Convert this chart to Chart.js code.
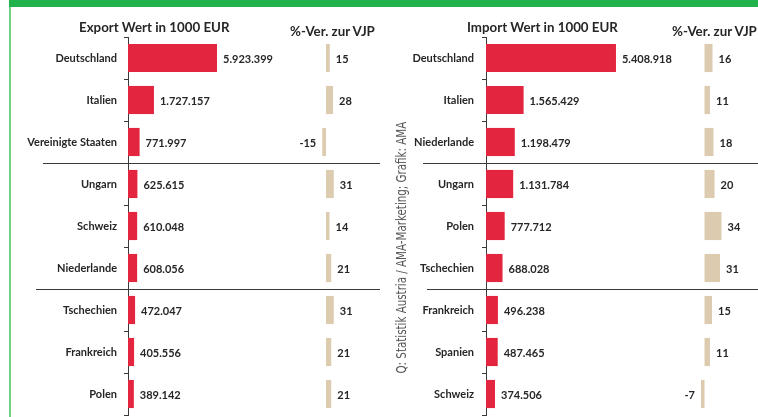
<!DOCTYPE html>
<html>
<head>
<meta charset="utf-8">
<script src="https://cdn.jsdelivr.net/npm/chart.js@4/dist/chart.umd.min.js"></script>
<style>
  html, body { margin: 0; padding: 0; background: #fff; }
  #wrap { position: relative; width: 758px; height: 417px; overflow: hidden; font-family: Lato, "Open Sans", sans-serif; color: #262626; }
  canvas { position: absolute; top: 0; }
  #exportChart { left: 0; }
  #importChart { left: 380px; }
  .banner { position: absolute; left: 9px; top: 0; width: 749px; height: 7px; background: #22b24c; }
  .sideline { position: absolute; left: 9px; top: 7px; width: 2px; height: 410px; background: #74cf84; }
  .title { position: absolute; font-weight: bold; font-size: 13.3px; line-height: 16px; white-space: nowrap; }
  #source { position: absolute; left: 275px; top: 272px; width: 252px; height: 18px; line-height: 18px;
    text-align: center; white-space: nowrap; font-size: 14.5px; color: #555;
    font-family: "Liberation Sans Narrow", "DejaVu Sans Condensed", Roboto, sans-serif; transform: rotate(-90deg); }
  #source span { display: inline-block; transform-origin: center; }
</style>
</head>
<body>
<div id="wrap">
  <canvas id="exportChart" width="380" height="417"></canvas>
  <canvas id="importChart" width="378" height="417"></canvas>
  <div class="banner"></div>
  <div class="sideline"></div>
  <div class="title" style="left:79px; top:19px;">Export Wert in 1000 EUR</div>
  <div class="title" style="left:290px; top:23px;">%-Ver. zur VJP</div>
  <div class="title" style="left:467px; top:19px;">Import Wert in 1000 EUR</div>
  <div class="title" style="left:672px; top:23px;">%-Ver. zur VJP</div>
  <div id="source"><span>Q: Statistik Austria / AMA-Marketing; Grafik: AMA</span></div>
</div>
<script>
// Export data
const exportCountries = ['Deutschland', 'Italien', 'Vereinigte Staaten', 'Ungarn', 'Schweiz', 'Niederlande', 'Tschechien', 'Frankreich', 'Polen'];
const exportValues = [5923399, 1727157, 771997, 625615, 610048, 608056, 472047, 405556, 389142];
const exportChange = [15, 28, -15, 31, 14, 21, 31, 21, 21];

// Import data
const importCountries = ['Deutschland', 'Italien', 'Niederlande', 'Ungarn', 'Polen', 'Tschechien', 'Frankreich', 'Spanien', 'Schweiz'];
const importValues = [5408918, 1565429, 1198479, 1131784, 777712, 688028, 496238, 487465, 374506];
const importChange = [16, 11, 18, 20, 34, 31, 15, 11, -7];

const RED = '#e3253f';
const TAN = '#dccbae';
const TEXT = '#262626';
const LINE = '#3a3a3a';

// German thousands separator
function fmtDe(n) {
    return String(n).replace(/\B(?=(\d{3})+(?!\d))/g, '.');
}

// Draws the value labels next to each bar
const barLabels = {
    id: 'barLabels',
    afterDatasetsDraw(chart) {
        const ctx = chart.ctx;
        ctx.save();
        ctx.font = 'bold 11px Lato, "Open Sans", sans-serif';
        ctx.fillStyle = TEXT;
        ctx.textBaseline = 'middle';
        chart.data.datasets.forEach((ds, d) => {
            chart.getDatasetMeta(d).data.forEach((bar, i) => {
                const v = ds.data[i];
                const txt = d === 0 ? fmtDe(v) : String(v);
                if (v >= 0) {
                    ctx.textAlign = 'left';
                    ctx.fillText(txt, bar.x + 6, bar.y + 1);
                } else {
                    ctx.textAlign = 'right';
                    ctx.fillText(txt, bar.x - 6, bar.y + 1);
                }
            });
        });
        ctx.restore();
    }
};

// Horizontal group separators between categories
const separators = {
    id: 'separators',
    afterDraw(chart, args, opts) {
        const ctx = chart.ctx;
        const y = chart.scales.y;
        ctx.save();
        ctx.strokeStyle = LINE;
        ctx.lineWidth = 1;
        opts.after.forEach((idx, k) => {
            const py = Math.round((y.getPixelForValue(idx) + y.getPixelForValue(idx + 1)) / 2) + 0.5;
            ctx.beginPath();
            ctx.moveTo(opts.startX[k], py);
            ctx.lineTo(chart.width, py);
            ctx.stroke();
        });
        ctx.restore();
    }
};

function makeChart(id, countries, values, change, axisWidth, labelPad, valueRange, changeRange, sepStart) {
    return new Chart(document.getElementById(id), {
        type: 'bar',
        data: {
            labels: countries,
            datasets: [
                { data: values, xAxisID: 'x', backgroundColor: RED, grouped: false, barPercentage: 0.67, categoryPercentage: 1 },
                { data: change, xAxisID: 'x2', backgroundColor: TAN, grouped: false, barPercentage: 0.67, categoryPercentage: 1 }
            ]
        },
        options: {
            indexAxis: 'y',
            responsive: false,
            animation: false,
            layout: { padding: { top: 37, bottom: 2, left: 0, right: 0 } },
            plugins: {
                legend: { display: false },
                tooltip: { enabled: false },
                separators: { after: [2, 5], startX: sepStart }
            },
            scales: {
                y: {
                    grid: { drawOnChartArea: false, tickLength: 4, color: LINE, offset: true },
                    border: { color: LINE },
                    ticks: { color: TEXT, padding: labelPad, font: { family: 'Lato, "Open Sans", sans-serif', size: 11, weight: 'bold' } },
                    afterFit: s => { s.width = axisWidth; s.paddingTop = 0; s.paddingBottom = 0; }
                },
                x: { display: false, min: 0, max: valueRange },
                x2: { type: 'linear', display: false, position: 'bottom', min: changeRange[0], max: changeRange[1] }
            }
        },
        plugins: [barLabels, separators]
    });
}

makeChart('exportChart', exportCountries, exportValues, exportChange, 128, 7, 16770000, [-792, 216], [43, 36]);
makeChart('importChart', importCountries, importValues, importChange, 106, 8, 11320000, [-437, 107], [43, 47]);

// fit the source note to its length
const src = document.querySelector('#source span');
const w = src.offsetWidth;
if (w > 0) src.style.transform = 'scaleX(' + (252 / w) + ')';
</script>
</body>
</html>
